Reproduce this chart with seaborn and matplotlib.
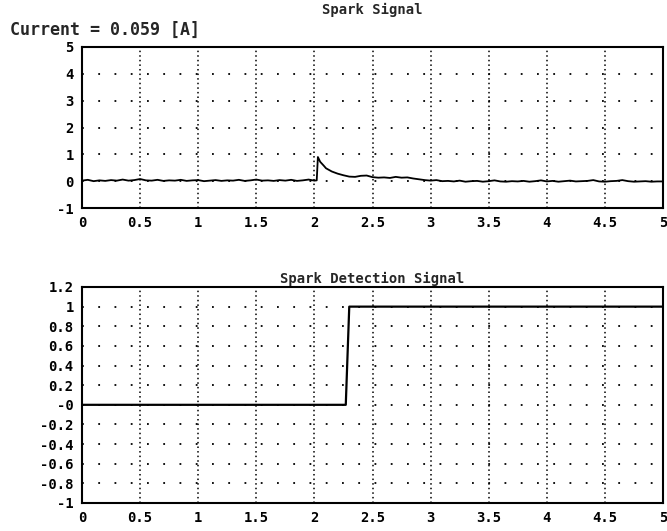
import matplotlib
matplotlib.use("Agg")
import matplotlib.pyplot as plt
import seaborn as sns
import pandas as pd

# ---- data ----
top_x = [0.00, 0.05, 0.10, 0.15, 0.20, 0.25, 0.30, 0.35, 0.40, 0.45,
         0.50, 0.55, 0.60, 0.65, 0.70, 0.75, 0.80, 0.85, 0.90, 0.95,
         1.00, 1.05, 1.10, 1.15, 1.20, 1.25, 1.30, 1.35, 1.40, 1.45,
         1.50, 1.55, 1.60, 1.65, 1.70, 1.75, 1.80, 1.85, 1.90, 1.95,
         2.00, 2.02, 2.03, 2.05, 2.08, 2.10, 2.15, 2.20, 2.25, 2.30,
         2.35, 2.40, 2.45, 2.50, 2.55, 2.60, 2.65, 2.70, 2.75, 2.80,
         2.85, 2.90, 2.95, 3.00, 3.05, 3.10, 3.15, 3.20, 3.25, 3.30,
         3.35, 3.40, 3.45, 3.50, 3.55, 3.60, 3.65, 3.70, 3.75, 3.80,
         3.85, 3.90, 3.95, 4.00, 4.05, 4.10, 4.15, 4.20, 4.25, 4.30,
         4.35, 4.40, 4.45, 4.50, 4.55, 4.60, 4.65, 4.70, 4.75, 4.80,
         4.85, 4.90, 4.95, 5.00]
top_y = [0.02, 0.05, 0.00, 0.03, 0.01, 0.04, 0.02, 0.06, 0.02, 0.04,
         0.08, 0.03, 0.02, 0.05, 0.01, 0.03, 0.02, 0.05, 0.01, 0.03,
         0.04, 0.00, 0.02, 0.04, 0.01, 0.03, 0.02, 0.05, 0.01, 0.03,
         0.06, 0.02, 0.03, 0.01, 0.04, 0.02, 0.05, 0.01, 0.03, 0.06,
         0.02, 0.03, 0.90, 0.72, 0.58, 0.48, 0.36, 0.28, 0.22, 0.17,
         0.16, 0.20, 0.21, 0.15, 0.13, 0.14, 0.12, 0.16, 0.13, 0.14,
         0.10, 0.07, 0.04, 0.02, 0.04, 0.00, 0.01, -0.01, 0.02, -0.02,
         0.00, 0.01, -0.02, 0.00, 0.03, -0.01, -0.02, 0.00, -0.01, 0.01,
         -0.02, 0.00, 0.03, -0.01, 0.01, -0.02, 0.00, 0.02, -0.01, 0.00,
         0.01, 0.04, -0.01, -0.02, 0.00, 0.01, 0.04, 0.00, -0.02, -0.01,
         0.00, -0.02, -0.01, -0.01]

bot_x = [0.0, 2.27, 2.30, 5.0]
bot_y = [0.0, 0.0, 1.0, 1.0]

x_ticks = [0, 0.5, 1, 1.5, 2, 2.5, 3, 3.5, 4, 4.5, 5]
x_labels = ["0", "0.5", "1", "1.5", "2", "2.5", "3", "3.5", "4", "4.5", "5"]
top_yticks = [-1, 0, 1, 2, 3, 4, 5]
top_ylabels = ["-1", "0", "1", "2", "3", "4", "5"]
bot_yticks = [-1, -0.8, -0.6, -0.4, -0.2, 0, 0.2, 0.4, 0.6, 0.8, 1, 1.2]
bot_ylabels = ["-1", "-0.8", "-0.6", "-0.4", "-0.2", "-0", "0.2", "0.4",
               "0.6", "0.8", "1", "1.2"]

sns.set_style("white")
plt.rcParams['font.family'] = ['DejaVu Sans Mono']
plt.rcParams['font.weight'] = 'bold'

fig = plt.figure(figsize=(6.67, 5.31), dpi=100)
W, H = 667, 531
def ax_rect(l, t, r, b):
    return [l / W, 1 - b / H, (r - l) / W, (b - t) / H]

ax1 = fig.add_axes(ax_rect(82, 47, 663, 208))
ax2 = fig.add_axes(ax_rect(82, 287, 663, 503))

df_top = pd.DataFrame({"t": top_x, "v": top_y})
df_bot = pd.DataFrame({"t": bot_x, "v": bot_y})
sns.lineplot(data=df_top, x="t", y="v", ax=ax1, color="black", lw=1.3, sort=False)
sns.lineplot(data=df_bot, x="t", y="v", ax=ax2, color="black", lw=1.6, sort=False)

def style(ax, yt, yl, ylim):
    ax.set_xlim(0, 5)
    ax.set_ylim(*ylim)
    ax.set_xticks(x_ticks)
    ax.set_xticklabels(x_labels, fontsize=10, fontweight='bold')
    ax.set_yticks(yt)
    ax.set_yticklabels(yl, fontsize=10, fontweight='bold')
    ax.set_xlabel("")
    ax.set_ylabel("")
    for s in ax.spines.values():
        s.set_visible(True)
        s.set_color("black")
        s.set_linewidth(1.5)
    ax.tick_params(axis='both', direction='in', length=3, width=1,
                   colors='black', pad=6)
    for xv in x_ticks[1:-1]:
        ax.axvline(xv, color='black', lw=1.1, ls=(0, (1, 2.0)), zorder=0)
    for yv in yt[1:-1]:
        ax.axhline(yv, color='black', lw=1.3, ls=(0, (1, 8)), zorder=0)

style(ax1, top_yticks, top_ylabels, (-1, 5))
style(ax2, bot_yticks, bot_ylabels, (-1, 1.2))

fig.text(ax1.get_position().x0 + ax1.get_position().width / 2, 1 - 10 / H,
         "Spark Signal", fontsize=10, fontweight='bold', ha='center', va='center')
ax2.set_title("Spark Detection Signal", fontsize=10, fontweight='bold', pad=3)
fig.text(10 / W, 1 - 30 / H, "Current = 0.059 [A]", fontsize=12,
         fontweight='bold', va='center', ha='left')

fig.savefig("out.png", dpi=100)
